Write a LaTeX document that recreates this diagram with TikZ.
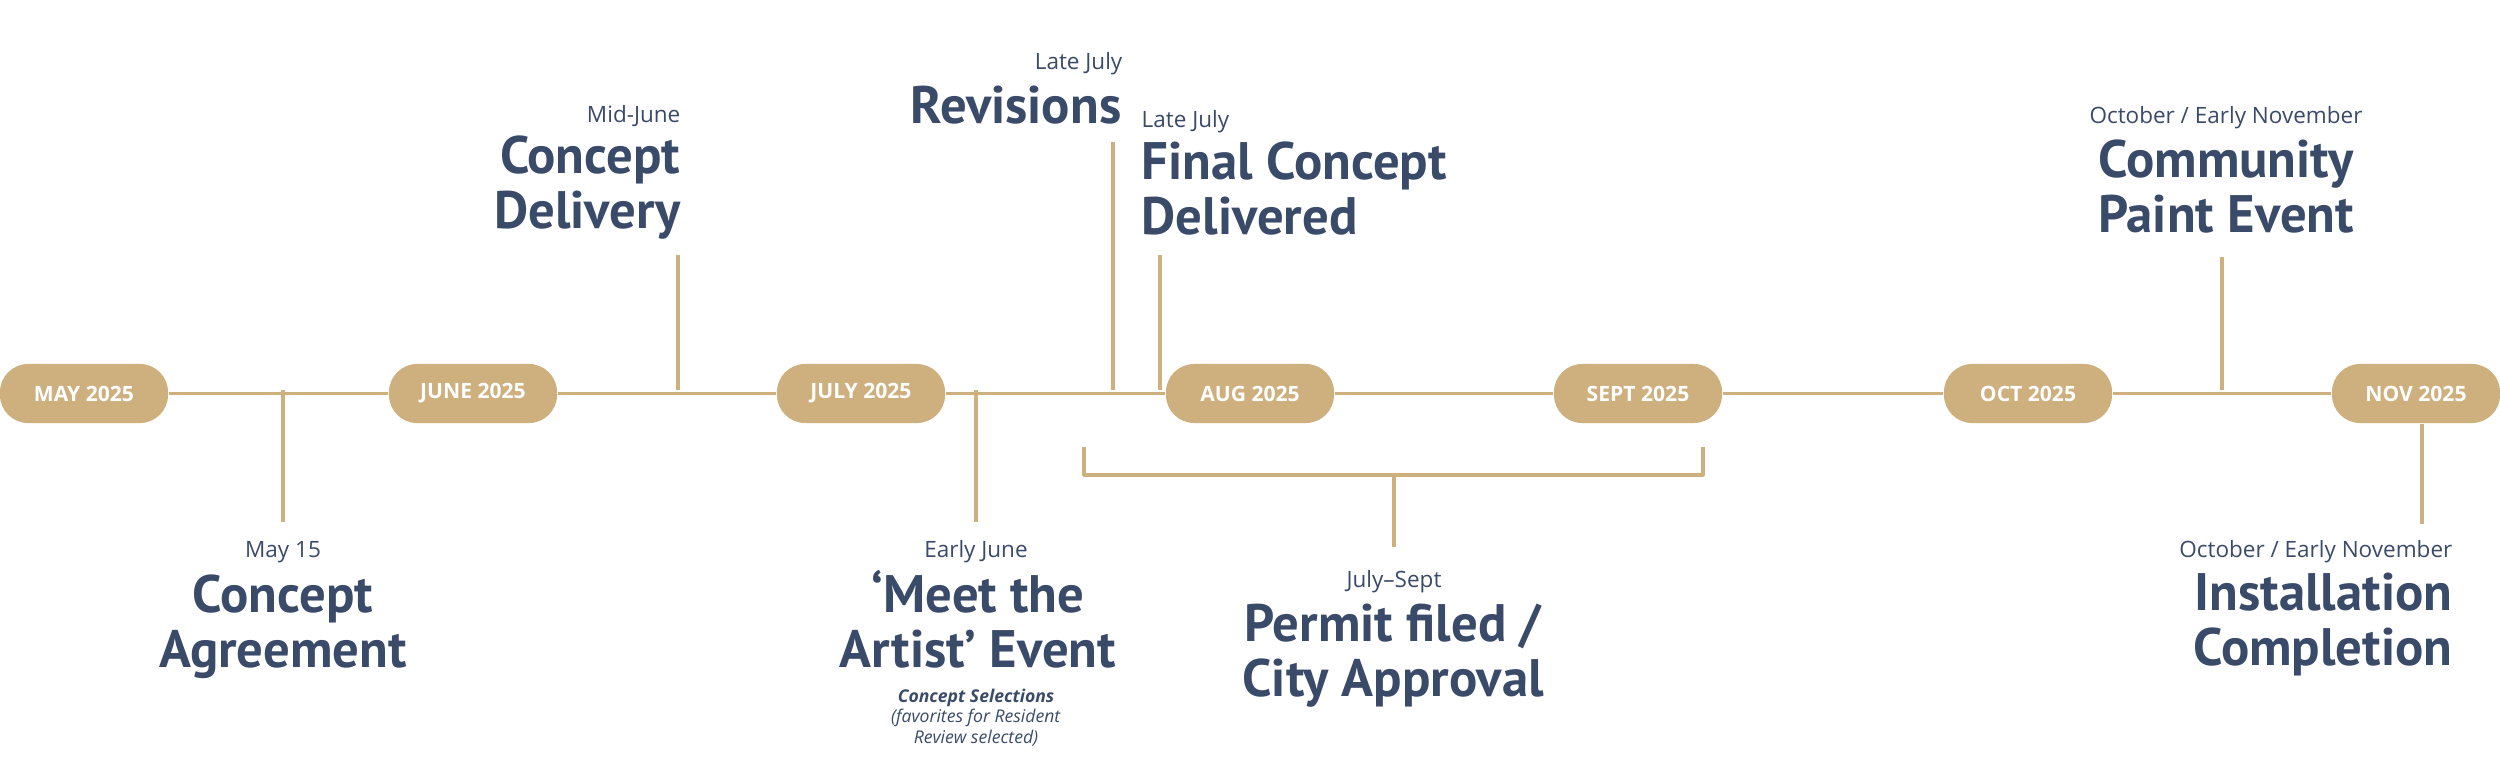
\documentclass[tikz,border=0pt]{standalone}
\usepackage{fontspec}
\setmainfont{Open Sans}
\newfontfamily\titlefont{PT Sans}
\definecolor{gold}{HTML}{CEAF7E}
\definecolor{navy}{HTML}{3A4A69}
\tikzset{
  month/.style={fill=gold, rounded corners=8pt, minimum width=1.68cm, minimum height=0.59cm,
    inner sep=0pt, text=white, font=\fontsize{6}{7}\selectfont\bfseries},
  track/.style={draw=gold, line width=1.1pt},
  link/.style={draw=gold, line width=0.9pt},
  when/.style={text=navy, inner sep=0pt, font=\fontsize{6.4}{7.4}\selectfont},
  headline/.style={text=navy, inner sep=0pt, font=\titlefont\fontsize{15}{15.6}\selectfont\bfseries},
  remark/.style={text=navy, inner sep=0pt, align=center, font=\fontsize{5}{5.8}\selectfont},
}
\begin{document}
\begin{tikzpicture}[x=0.01cm, y=-0.01cm]
    \useasboundingbox (0,0) rectangle (2500,781);

    % Month pills
    \node[month] (may)  at (84,393.5)   {MAY 2025};
    \node[month] (june) at (473,393.5)  {JUNE 2025};
    \node[month] (july) at (861,393.5)  {JULY 2025};
    \node[month] (aug)  at (1250,393.5) {AUG 2025};
    \node[month] (sept) at (1638,393.5) {SEPT 2025};
    \node[month] (oct)  at (2028,393.5) {OCT 2025};
    \node[month] (nov)  at (2416,393.5) {NOV 2025};

    % Timeline
    \foreach \a/\b in {may/june, june/july, july/aug, aug/sept, sept/oct, oct/nov}
        \draw[track] (\a) -- (\b);

    % Tick ends
    \coordinate (agreeA) at (283,390);   \coordinate (agreeB) at (283,522);
    \coordinate (delivA) at (678,390);   \coordinate (delivB) at (678,255);
    \coordinate (meetA) at (976,390);    \coordinate (meetB) at (976,522);
    \coordinate (reviA) at (1113,390);   \coordinate (reviB) at (1113,142);
    \coordinate (finalA) at (1160,390);  \coordinate (finalB) at (1160,255);
    \coordinate (paintA) at (2222,390);  \coordinate (paintB) at (2222,257);
    \coordinate (installB) at (2422,524);
    \draw[link] (agreeA) -- (agreeB);
    \draw[link] (delivA) -- (delivB);
    \draw[link] (meetA) -- (meetB);
    \draw[link] (reviA) -- (reviB);
    \draw[link] (finalA) -- (finalB);
    \draw[link] (paintA) -- (paintB);
    \draw[link] (nov.south -| installB) -- (installB);

    % Permit bracket
    \coordinate (brL) at (1084,447);
    \coordinate (brR) at (1703,447);
    \coordinate (brM) at (1394,475);
    \coordinate (brEnd) at (1394,547);
    \draw[link, line join=round] (brL) |- (brM) -| (brR);
    \draw[link] (brM) -- (brEnd);

    % Labels below (base = last line)
    \node[when, anchor=base] (agreeW) at (283,557) {May 15};
    \node[headline, anchor=base, align=center] (agreeT) at (283,667) {Concept\\Agreement};
    \node[when, anchor=base] (meetW) at (976,557) {Early June};
    \node[headline, anchor=base, align=center] (meetT) at (978,667) {‘Meet the\\Artist’ Event};
    \node[remark, anchor=base] (meetR) at (976,743)
        {\textbf{\textit{Concept Selections}}\\\textit{(favorites for Resident}\\\textit{Review selected)}};
    \node[when, anchor=base] (permitW) at (1394,587) {July–Sept};
    \node[headline, anchor=base, align=center] (permitT) at (1393,696) {Permit filed /\\City Approval};
    \node[when, anchor=base east] (installW) at (2453,557) {October / Early November};
    \node[headline, anchor=base east, align=right] (installT) at (2453,665) {Installation\\Completion};

    % Labels above
    \node[when, anchor=base east] (delivW) at (681,122) {Mid-June};
    \node[headline, anchor=base east, align=right] (delivT) at (681,228) {Concept\\Delivery};
    \node[when, anchor=base east] (reviW) at (1123,69) {Late July};
    \node[headline, anchor=base east] (reviT) at (1122,123) {Revisions};
    \node[when, anchor=base west] (finalW) at (1141,127) {Late July};
    \node[headline, anchor=base west, align=left] (finalT) at (1141,234) {Final Concept\\Delivered};
    \node[when, anchor=base] (paintW) at (2226,123) {October / Early November};
    \node[headline, anchor=base, align=center] (paintT) at (2226,232) {Community\\Paint Event};
\end{tikzpicture}
\end{document}
